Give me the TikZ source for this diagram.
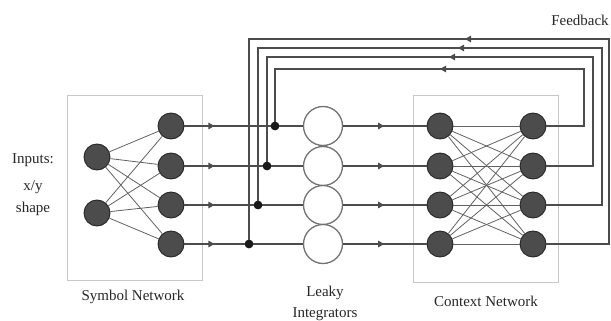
\documentclass[tikz,border=0pt]{standalone}
\usepackage{fontspec}
\setmainfont{Liberation Serif}
\usetikzlibrary{arrows.meta,decorations.markings}
\begin{document}
\begin{tikzpicture}[x=1pt,y=-1pt,
  unit/.style={circle,draw=black!85,fill=black!70,line width=0.9pt,minimum size=26pt,inner sep=0pt},
  leaky/.style={circle,draw=black!55,fill=white,line width=1.3pt,minimum size=39pt,inner sep=0pt},
  netbox/.style={draw=black!22,line width=0.9pt,inner sep=0pt},
  wire/.style={draw=black!70,line width=1.2pt},
  link/.style={draw=black!62,line width=0.8pt},
  junction/.style={circle,fill=black!90,inner sep=0pt,minimum size=8.5pt},
  txt/.style={text=black!85,font=\fontsize{15}{17}\selectfont,inner sep=0pt},
  tipat/.style={postaction=decorate,decoration={markings,
      mark=at position #1 with {\arrow{Triangle[length=6pt,width=6.5pt]}}}},
]
\useasboundingbox (0,0) rectangle (611,321);

% module frames
\node[netbox,minimum width=135pt,minimum height=185pt] (symbox) at (134.5,187.5) {};
\node[netbox,minimum width=145pt,minimum height=187pt] (ctxbox) at (485.5,188.5) {};

% symbol network, leaky integrators and context network units
\node[unit] (in1) at (97,157) {};
\node[unit] (in2) at (97,213) {};
\foreach \i/\y in {1/126,2/166,3/205,4/244}{
  \node[unit]  (s\i) at (171,\y) {};
  \node[leaky] (l\i) at (323,\y) {};
  \node[unit]  (c\i) at (440,\y) {};
  \node[unit]  (o\i) at (533,\y) {};
}
\foreach \a in {1,2}
  \foreach \b in {1,...,4}
    \draw[link] (in\a) -- (s\b);
\foreach \a in {1,...,4}
  \foreach \b in {1,...,4}
    \draw[link] (c\a) -- (o\b);

% feedback taps and return loops
\foreach \i/\y/\xj/\yf/\xr in {1/126/275/69/584, 2/166/267/57/593, 3/205/258/48/602, 4/244/249/39/609}{
  \coordinate (fr\i) at (\xr,\yf);
  \coordinate (fl\i) at (\xj,\yf);
  \node[junction] (j\i) at (\xj,\y) {};
}
\foreach \i in {1,...,4}{
  \draw[wire,tipat=30pt] (s\i.east) -- (l\i.west);
  \draw[wire,tipat=41pt] (l\i.east) -- (c\i.west);
  \draw[wire,line join=miter] (o\i.east) -| (fr\i) -- (fl\i) -- (j\i);
  \draw[wire,tipat=144pt] (fr\i) -- (fl\i);
}
\foreach \i in {1,...,4}
  \node[junction] at (j\i) {};

% captions
\node[txt] (inlab) at (33,160) {Inputs:};
\node[txt] (xylab) at (33,187) {x/y};
\node[txt] (shlab) at (33,209) {shape};
\node[txt] (symlab) at (133,297) {Symbol Network};
\node[txt] (lk1) at (325,293) {Leaky};
\node[txt] (lk2) at (325,314) {Integrators};
\node[txt] (ctxlab) at (486,301) {Context Network};
\node[txt] (fblab) at (580,20) {Feedback};
\end{tikzpicture}
\end{document}
